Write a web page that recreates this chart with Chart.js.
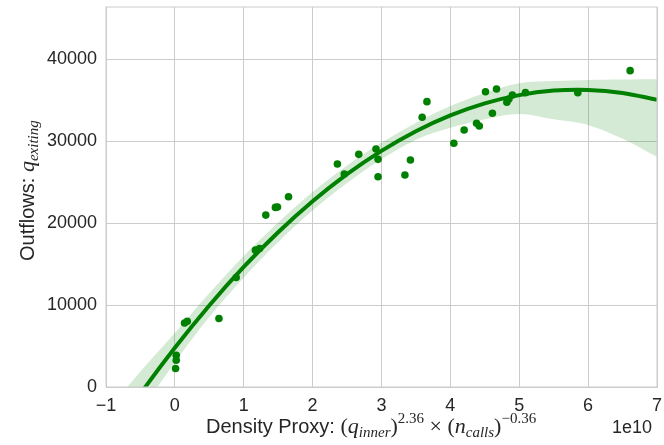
<!DOCTYPE html>
<html>
<head>
<meta charset="utf-8">
<script src="https://cdn.jsdelivr.net/npm/chart.js@4"></script>
<style>
  body { margin: 0; background: #fff; }
  #wrap { width: 664px; height: 445px; }
</style>
</head>
<body>
<div id="wrap"><canvas id="chart" width="664" height="445"></canvas></div>
<script>
// x values are in units of 1e10 (the axis shows the "1e10" offset)
const pointsX = [0.02, 0.02, 0.01, 0.14, 0.18, 0.64, 0.89, 1.17, 1.23, 1.32, 1.46, 1.49, 1.65, 2.36, 2.46, 2.67, 2.92, 2.95, 2.95,
                 3.34, 3.42, 3.59, 3.66, 4.05, 4.20, 4.38, 4.42, 4.51, 4.61, 4.67, 4.82, 4.85, 4.90, 5.09, 5.85, 6.61];
const pointsY = [3880, 3260, 2250, 7820, 8030, 8360, 13370, 16710, 16920, 20990, 21930, 21970, 23230, 27230, 26000, 28410, 29060, 27800, 25670,
                 25880, 27710, 32930, 34840, 29760, 31380, 32200, 31870, 36060, 33420, 36390, 34770, 35170, 35660, 35940, 35940, 38630];

// fitted curve and its confidence band
const fitX     = [-1, -0.5, 0, 0.5, 1, 1.5, 2, 2.5, 3, 3.5, 4, 4.5, 5, 5.5, 6, 6.5, 7];
const fitY     = [-6900, -820, 4800, 9960, 14660, 18890, 22670, 25980, 28830, 31230, 33160, 34630, 35640, 36190, 36280, 35910, 35070];
const fitUpper = [-3100, 1900, 6600, 11450, 16000, 20100, 23800, 27050, 29850, 32250, 34300, 35900, 37100, 37350, 37500, 37550, 37580];
const fitLower = [-10500, -3200, 3000, 8550, 13350, 17700, 21550, 24900, 27800, 30200, 31650, 32700, 33350, 32700, 32000, 30300, 28080];

const xTicks = [-1, 0, 1, 2, 3, 4, 5, 6, 7];
const yTicks = [0, 10000, 20000, 30000, 40000];

const green = '#008000';
const textColor = '#262626';
const gridColor = '#cccccc';

const toPts = (xs, ys) => xs.map((x, i) => ({ x: x, y: ys[i] }));

// draws a run of text pieces with their own fonts and offsets
function drawPieces(ctx, pieces, x, y) {
  let cx = x;
  pieces.forEach(p => {
    ctx.font = p.font;
    ctx.fillText(p.t, cx, y + (p.dy || 0));
    cx += ctx.measureText(p.t).width;
  });
}

const sans = '20px "Liberation Sans", Arial, sans-serif';
const mUp = '22px "Liberation Serif", serif';
const mIt = 'italic 22px "Liberation Serif", serif';
const mSmall = 'italic 15px "Liberation Serif", serif';
const mSmallUp = '15px "Liberation Serif", serif';

const labelsPlugin = {
  id: 'labels',
  afterDraw(chart) {
    const ctx = chart.ctx;
    const a = chart.chartArea;
    ctx.save();
    // frame round the plot
    ctx.strokeStyle = gridColor;
    ctx.lineWidth = 1;
    ctx.strokeRect(a.left, a.top, a.right - a.left, a.bottom - a.top);

    ctx.fillStyle = textColor;
    ctx.textBaseline = 'alphabetic';
    ctx.textAlign = 'left';
    drawPieces(ctx, [
      { t: 'Density Proxy: ', font: sans },
      { t: '(', font: mUp },
      { t: 'q', font: mIt },
      { t: 'inner', font: mSmall, dy: 4 },
      { t: ')', font: mUp },
      { t: '2.36', font: mSmallUp, dy: -10 },
      { t: ' × ', font: mUp },
      { t: '(', font: mUp },
      { t: 'n', font: mIt },
      { t: 'calls', font: mSmall, dy: 4 },
      { t: ')', font: mUp },
      { t: '−0.36', font: mSmallUp, dy: -10 }
    ], 206, 433);

    ctx.textAlign = 'right';
    ctx.font = '18px "Liberation Sans", Arial, sans-serif';
    ctx.fillText('1e10', 652, 433);

    ctx.textAlign = 'left';
    ctx.translate(34, 261);
    ctx.rotate(-Math.PI / 2);
    drawPieces(ctx, [
      { t: 'Outflows: ', font: sans },
      { t: 'q', font: mIt },
      { t: 'exiting', font: mSmall, dy: 4 }
    ], 0, 0);
    ctx.restore();
  }
};

new Chart(document.getElementById('chart'), {
  type: 'scatter',
  data: {
    datasets: [
      {
        type: 'line',
        data: toPts(fitX, fitUpper),
        borderWidth: 0,
        pointRadius: 0,
        tension: 0.35,
        backgroundColor: 'rgba(0,128,0,0.17)',
        fill: '+1',
        clip: 0,
        order: 3
      },
      {
        type: 'line',
        data: toPts(fitX, fitLower),
        borderWidth: 0,
        pointRadius: 0,
        tension: 0.35,
        fill: false,
        clip: 0,
        order: 3
      },
      {
        data: toPts(pointsX, pointsY),
        backgroundColor: green,
        borderWidth: 0,
        pointRadius: 3.8,
        order: 2
      },
      {
        type: 'line',
        data: toPts(fitX, fitY),
        borderColor: green,
        borderWidth: 4,
        pointRadius: 0,
        tension: 0.35,
        fill: false,
        clip: 0,
        order: 1
      }
    ]
  },
  options: {
    responsive: false,
    animation: false,
    layout: { padding: { left: 0, right: 7, top: 7, bottom: 0 } },
    plugins: { legend: { display: false }, tooltip: { enabled: false } },
    scales: {
      x: {
        type: 'linear',
        min: -1,
        max: 7,
        afterFit: s => { s.height = 58; s.paddingLeft = 0; s.paddingRight = 0; },
        afterBuildTicks: s => { s.ticks = xTicks.map(v => ({ value: v })); },
        grid: { color: gridColor, drawTicks: false },
        border: { color: gridColor },
        ticks: {
          padding: 8,
          color: textColor,
          font: { family: '"Liberation Sans", Arial, sans-serif', size: 18 },
          callback: v => (v < 0 ? '−' + Math.abs(v) : String(v))
        }
      },
      y: {
        min: 0,
        max: 46400,
        afterFit: s => { s.width = 106; s.paddingTop = 0; s.paddingBottom = 0; },
        afterBuildTicks: s => { s.ticks = yTicks.map(v => ({ value: v })); },
        grid: { color: gridColor, drawTicks: false },
        border: { color: gridColor },
        ticks: {
          padding: 9,
          color: textColor,
          font: { family: '"Liberation Sans", Arial, sans-serif', size: 18 },
          callback: v => String(v)
        }
      }
    }
  },
  plugins: [labelsPlugin]
});
</script>
</body>
</html>
